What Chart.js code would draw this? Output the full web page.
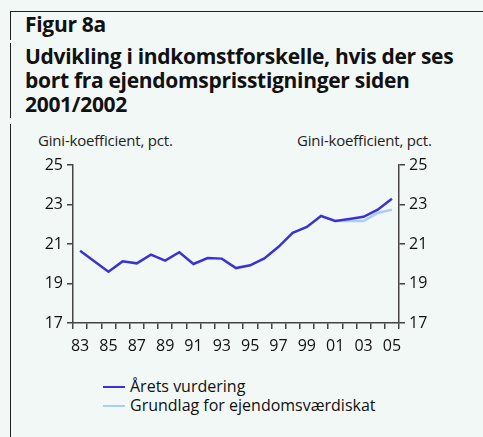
<!DOCTYPE html>
<html>
<head>
<meta charset="utf-8">
<script src="https://cdn.jsdelivr.net/npm/chart.js@4"></script>
<style>
  body { margin: 0; background: #f2f8f6; font-family: "Open Sans", sans-serif; }
  #wrap { position: relative; width: 483px; height: 437px; overflow: hidden; }
  .rule-top { position: absolute; left: 10px; top: 11px; width: 473px; height: 1px; background: #222; }
  .rule-left { position: absolute; left: 10px; width: 1px; background: #222; }
  .title { position: absolute; left: 25px; color: #111; font-weight: bold; font-size: 21px; line-height: 24px; letter-spacing: -0.3px; }
  .unit { position: absolute; top: 130px; font-size: 15px; color: #222; letter-spacing: -0.2px; }
  #legend { position: absolute; left: 103px; top: 377px; font-size: 16px; color: #111; line-height: 19px; }
  #legend .sw { display: inline-block; width: 22px; height: 2px; vertical-align: middle; margin-right: 5px; position: relative; top: -1px; }
  #box { position: absolute; left: 0; top: 150px; width: 483px; height: 220px; }
</style>
</head>
<body>
<div id="wrap">
  <div class="rule-top"></div>
  <div class="rule-left" style="top:11px;height:29px;"></div>
  <div class="rule-left" style="top:43px;height:75px;"></div>
  <div class="rule-left" style="top:124px;height:313px;"></div>
  <div class="title" style="top:12px;">Figur 8a</div>
  <div class="title" style="top:44px;">Udvikling i indkomstforskelle, hvis der ses<br>bort fra ejendomsprisstigninger siden<br>2001/2002</div>
  <div class="unit" style="left:38px;">Gini-koefficient, pct.</div>
  <div class="unit" style="left:297px;">Gini-koefficient, pct.</div>
  <div id="box"><canvas id="chart"></canvas></div>
  <div id="legend"></div>
</div>
<script>
// Gini-koefficient, 1983-2005
const years = ["83","84","85","86","87","88","89","90","91","92","93","94","95","96","97","98","99","00","01","02","03","04","05"];
const aaretsVurdering = [20.66, 20.13, 19.6, 20.12, 20.02, 20.46, 20.16, 20.58, 19.99, 20.29, 20.26, 19.78, 19.92, 20.27, 20.86, 21.57, 21.86, 22.42, 22.17, 22.27, 22.38, 22.74, 23.29];
const grundlag = [null, null, null, null, null, null, null, null, null, null, null, null, null, null, null, null, null, null, 22.17, 22.16, 22.16, 22.57, 22.74];
const yTicks = [17, 19, 21, 23, 25];

const seriesNames = ["Årets vurdering", "Grundlag for ejendomsværdiskat"];
const seriesColors = ["#3b33d1", "#a9cdfa"];

const axisColor = "#444";
const tickFont = { family: "Open Sans", size: 16 };

function fixWidth(w) {
    return function (scale) { scale.width = w; };
}

const yAxis = (pos, w) => ({
    position: pos,
    min: 17,
    max: 25,
    afterFit: fixWidth(w),
    afterBuildTicks: function (scale) { scale.ticks = yTicks.map(v => ({ value: v })); },
    border: { display: true, color: axisColor, width: 1.5 },
    grid: { drawOnChartArea: false, drawTicks: true, tickLength: 6, color: axisColor, lineWidth: 1.5 },
    ticks: { color: "#111", font: tickFont, padding: 4 }
});

new Chart(document.getElementById("chart"), {
    type: "line",
    data: {
        labels: years,
        datasets: [
            { label: seriesNames[1], data: grundlag, borderColor: seriesColors[1], borderWidth: 2.5, pointRadius: 0, tension: 0, order: 2 },
            { label: seriesNames[0], data: aaretsVurdering, borderColor: seriesColors[0], borderWidth: 2.5, pointRadius: 0, tension: 0, order: 1 }
        ]
    },
    options: {
        responsive: true,
        maintainAspectRatio: false,
        animation: false,
        layout: { padding: { top: 15, left: 0, right: 0, bottom: 0 } },
        plugins: { legend: { display: false }, tooltip: { enabled: false } },
        scales: {
            x: {
                offset: true,
                afterFit: function (scale) { scale.height = 47; },
                border: { display: true, color: axisColor, width: 1.5 },
                grid: { offset: true, drawOnChartArea: false, drawTicks: true, tickLength: 6, color: axisColor, lineWidth: 1.5 },
                ticks: {
                    color: "#111", font: tickFont, autoSkip: false, maxRotation: 0, padding: 8,
                    callback: function (v, i) { return i % 2 === 0 ? years[i] : ""; }
                }
            },
            y: yAxis("left", 73),
            y2: yAxis("right", 84)
        }
    }
});

// legend
const legend = document.getElementById("legend");
seriesNames.forEach((name, i) => {
    const row = document.createElement("div");
    row.innerHTML = '<span class="sw" style="background:' + seriesColors[i] + '"></span>' + name;
    legend.appendChild(row);
});
</script>
</body>
</html>
